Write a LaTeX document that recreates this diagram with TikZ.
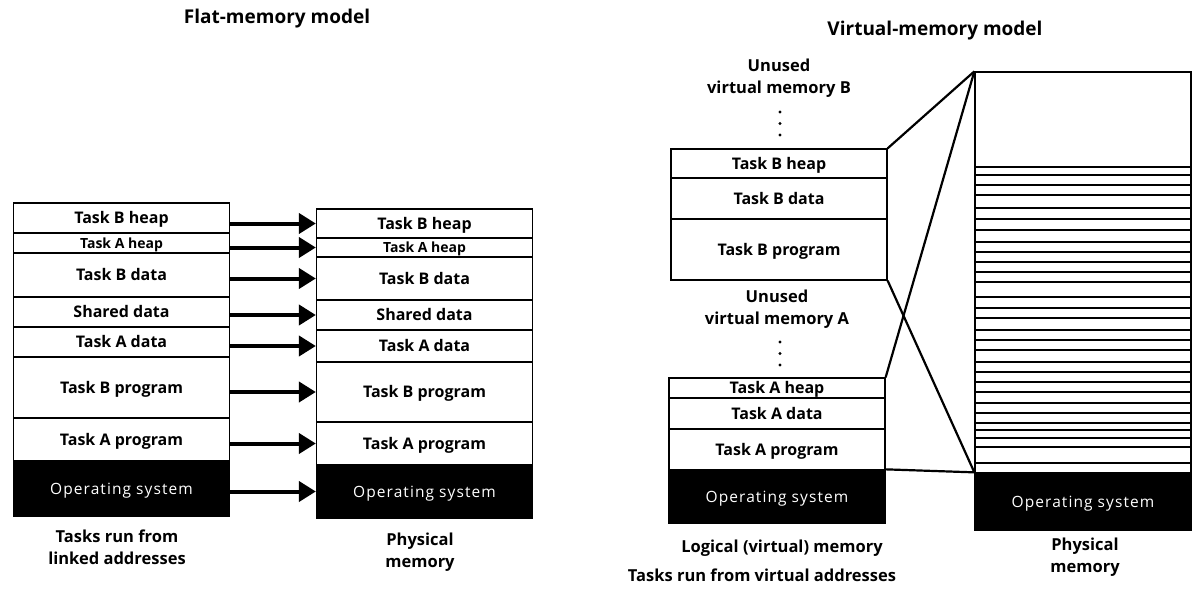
\documentclass[tikz,border=0pt]{standalone}
\usepackage{fontspec}
\setmainfont{Open Sans}
\usetikzlibrary{arrows.meta}

\begin{document}
\begin{tikzpicture}[
	x=1pt, y=-1pt,
	cell/.style={rectangle, draw=black, line width=1.3pt, fill=white, minimum width=216pt, inner sep=0pt, text height=11pt, text depth=0pt, font=\bfseries\fontsize{16}{18}\selectfont},
	smallcell/.style={cell, text height=10pt, font=\bfseries\fontsize{14}{16}\selectfont},
	oscell/.style={cell, fill=black, text=white, font=\mdseries\fontsize{15.5}{17}\selectfont\addfontfeatures{LetterSpace=7}},
	maparrow/.style={line width=4pt, -{Triangle[length=17pt, width=20pt]}},
	pagelink/.style={line width=2.2pt},
	pageline/.style={line width=1.5pt},
	undertext/.style={align=center, font=\bfseries\fontsize{16.5}{22}\selectfont},
	heading/.style={font=\bfseries\fontsize{19}{21}\selectfont},
	]
	\useasboundingbox (0,0) rectangle (1197,589);

	% flat-memory model
	\node[heading] at (277, 19) (flattitle) {Flat-memory model};

	\node[cell, minimum height=30pt] at (121.5, 218) (fBheap) {Task B heap};
	\node[smallcell, minimum height=20pt] at (121.5, 243) (fAheap) {Task A heap};
	\node[cell, minimum height=44pt] at (121.5, 275) (fBdata) {Task B data};
	\node[cell, minimum height=30pt] at (121.5, 312) (fshared) {Shared data};
	\node[cell, minimum height=30pt] at (121.5, 342) (fAdata) {Task A data};
	\node[cell, minimum height=61pt] at (121.5, 387.5) (fBprog) {Task B program};
	\node[cell, minimum height=43pt] at (121.5, 439.5) (fAprog) {Task A program};
	\node[oscell, minimum height=55pt] at (121.5, 488.5) (fos) {Operating system};
	\node[undertext] at (117, 547) (flatcap) {Tasks run from\\linked addresses};

	\node[cell, minimum height=29pt] at (424.5, 223.5) (pBheap) {Task B heap};
	\node[smallcell, minimum height=19pt] at (424.5, 247.5) (pAheap) {Task A heap};
	\node[cell, minimum height=43pt] at (424.5, 278.5) (pBdata) {Task B data};
	\node[cell, minimum height=30pt] at (424.5, 315) (pshared) {Shared data};
	\node[cell, minimum height=32pt] at (424.5, 346) (pAdata) {Task A data};
	\node[cell, minimum height=60pt] at (424.5, 392) (pBprog) {Task B program};
	\node[cell, minimum height=43pt] at (424.5, 443.5) (pAprog) {Task A program};
	\node[oscell, minimum height=53pt] at (424.5, 491.5) (pos) {Operating system};
	\node[undertext] at (420, 552.5) (flatphys) {Physical\\memory};

	\draw[maparrow] (fBheap.east |- pBheap) to (pBheap.west);
	\draw[maparrow] (fAheap.east |- pAheap) to (pAheap.west);
	\draw[maparrow] (fBdata.east |- pBdata) to (pBdata.west);
	\draw[maparrow] (fshared.east |- pshared) to (pshared.west);
	\draw[maparrow] (fAdata.east |- pAdata) to (pAdata.west);
	\draw[maparrow] (fBprog.east |- pBprog) to (pBprog.west);
	\draw[maparrow] (fAprog.east |- pAprog) to (pAprog.west);
	\draw[maparrow] (fos.east |- pos) to (pos.west);

	% virtual-memory model
	\node[heading] at (935, 31) (virttitle) {Virtual-memory model};

	\node[undertext] at (779, 78.5) (unusedB) {Unused\\virtual memory B};
	\foreach \d in {112, 123.5, 135}
		\fill (780, \d) circle (1.7pt);
	\node[cell, minimum height=29pt] at (779, 163.5) (vBheap) {Task B heap};
	\node[cell, minimum height=41pt] at (779, 198.5) (vBdata) {Task B data};
	\node[cell, minimum height=61pt] at (779, 249.5) (vBprog) {Task B program};

	\node[undertext] at (777, 309) (unusedA) {Unused\\virtual memory A};
	\foreach \d in {342, 353.5, 365}
		\fill (780, \d) circle (1.7pt);
	\node[cell, minimum height=20pt] at (777, 388) (vAheap) {Task A heap};
	\node[cell, minimum height=31pt] at (777, 413.5) (vAdata) {Task A data};
	\node[cell, minimum height=41pt] at (777, 449.5) (vAprog) {Task A program};
	\node[oscell, minimum height=53pt] at (777, 496.5) (vAos) {Operating system};
	\node[undertext] at (782, 548) (logcap) {Logical (virtual) memory};
	\node[undertext] at (762, 575) (taskcap) {Tasks run from virtual addresses};

	\node[cell, minimum height=401pt] at (1083, 272.5) (phys) {};
	\node[oscell, minimum height=57pt] at (1083, 501.5) (physos) {Operating system};
	\node[undertext] at (1085, 557.5) (virtphys) {Physical\\memory};
	% pages
	\foreach \y in {167,175,185,195,208,219,230,242,252,262,272,282,297,308,318,330,340,350,362,372,382,392,403,413,423,430,438,447,463}
		\draw[pageline] (phys.west |- 0,\y) -- (phys.east |- 0,\y);

	\draw[pagelink] (vBheap.north east) -- (phys.north west);
	\draw[pagelink] (vBprog.south east) -- (physos.north west);
	\draw[pagelink] (vAheap.north east) -- (phys.north west);
	\draw[pagelink] (vAos.north east) -- (physos.north west);
\end{tikzpicture}
\end{document}
